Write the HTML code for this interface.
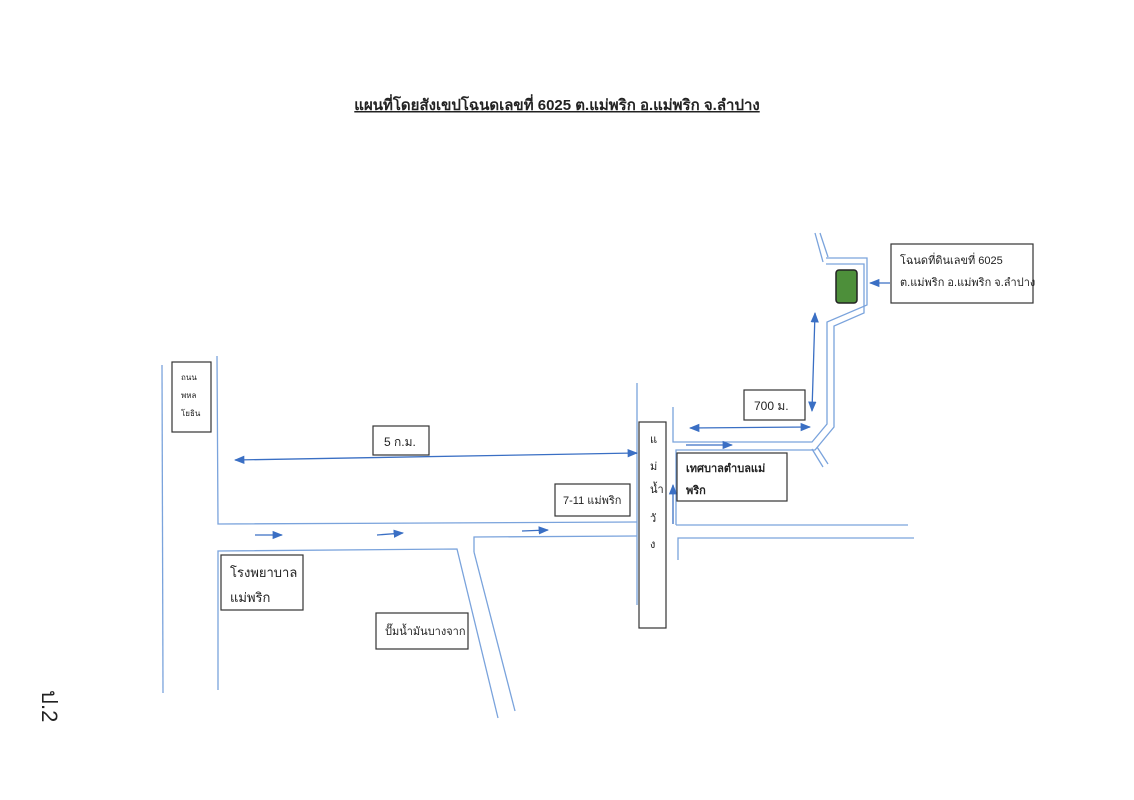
<!DOCTYPE html>
<html><head><meta charset="utf-8"><style>
html,body{margin:0;padding:0;background:#fff;}
svg{display:block;}
text{font-family:"Liberation Sans","Noto Sans CJK SC",sans-serif;fill:#222;}
</style></head><body>
<svg width="1134" height="800" viewBox="0 0 1134 800" xmlns="http://www.w3.org/2000/svg">
<defs>
<marker id="a" viewBox="0 0 10 10" refX="9" refY="5" markerWidth="8" markerHeight="8" orient="auto-start-reverse"><path d="M0,1 L10,5 L0,9 z" fill="#3a6fc4"/></marker>
</defs>
<text x="557" y="110" font-size="15" font-weight="bold" text-anchor="middle" text-decoration="underline">แผนที่โดยสังเขปโฉนดเลขที่ 6025 ต.แม่พริก อ.แม่พริก จ.ลำปาง</text>
<g stroke="#7aa3dc" stroke-width="1.3" fill="none">
<line x1="162" y1="365" x2="163" y2="693"/>
<polyline points="217,356 218,524 637,522"/>
<polyline points="218,690 218,551 457,549 498,718"/>
<polyline points="474,552 474,537 637,536"/>
<line x1="474" y1="552" x2="515" y2="711"/>
<line x1="637" y1="383" x2="637" y2="605"/>
<polyline points="673,407 673,442 812,442 827,424 827,322 867,305 867,258 826,258"/>
<polyline points="676,525 676,450 815,450 834,427 834,326 864,313 864,264 826,264"/>
<line x1="676" y1="525" x2="908" y2="525"/>
<polyline points="678,560 678,538 914,538"/>
<line x1="812" y1="449" x2="823" y2="467"/>
<line x1="817" y1="447" x2="828" y2="464"/>
<line x1="815" y1="233" x2="823" y2="262"/>
<line x1="820" y1="233" x2="828" y2="257"/>
</g>
<g stroke="#3a6fc4" stroke-width="1.3" fill="none">
<line x1="235" y1="460" x2="637" y2="453" marker-start="url(#a)" marker-end="url(#a)"/>
<line x1="255" y1="535" x2="282" y2="535" marker-end="url(#a)"/>
<line x1="377" y1="535" x2="403" y2="533" marker-end="url(#a)"/>
<line x1="522" y1="531" x2="548" y2="530" marker-end="url(#a)"/>
<line x1="686" y1="445" x2="732" y2="445" marker-end="url(#a)"/>
<line x1="690" y1="428" x2="810" y2="427" marker-start="url(#a)" marker-end="url(#a)"/>
<line x1="815" y1="313" x2="812" y2="411" marker-start="url(#a)" marker-end="url(#a)"/>
<line x1="890" y1="283" x2="870" y2="283" marker-end="url(#a)"/>
<line x1="673" y1="524" x2="673" y2="485" marker-end="url(#a)"/>
</g>
<rect x="836" y="270" width="21" height="33" rx="3" fill="#4d8f3a" stroke="#222" stroke-width="1.5"/>
<g fill="#fff" stroke="#333" stroke-width="1.2">
<rect x="172" y="362" width="39" height="70"/>
<rect x="373" y="426" width="56" height="29"/>
<rect x="555" y="484" width="75" height="32"/>
<rect x="639" y="422" width="27" height="206"/>
<rect x="677" y="453" width="110" height="48"/>
<rect x="744" y="390" width="61" height="30"/>
<rect x="891" y="244" width="142" height="59"/>
<rect x="221" y="555" width="82" height="55"/>
<rect x="376" y="613" width="92" height="36"/>
</g>
<g font-size="8"><text x="181" y="380">ถนน</text><text x="181" y="398">พหล</text><text x="181" y="416">โยธิน</text></g>
<text x="384" y="446" font-size="12">5 ก.ม.</text>
<text x="563" y="504" font-size="11">7-11 แม่พริก</text>
<g font-size="11"><text x="650" y="443">แ</text><text x="650" y="470">ม่</text><text x="650" y="493">น้ำ</text><text x="650" y="522">วั</text><text x="650" y="548">ง</text></g>
<text x="686" y="472" font-size="11" font-weight="bold">เทศบาลตำบลแม่</text>
<text x="686" y="494" font-size="11" font-weight="bold">พริก</text>
<text x="754" y="410" font-size="12">700 ม.</text>
<text x="900" y="264" font-size="11">โฉนดที่ดินเลขที่ 6025</text>
<text x="900" y="286" font-size="11">ต.แม่พริก อ.แม่พริก จ.ลำปาง</text>
<text x="230" y="577" font-size="13">โรงพยาบาล</text>
<text x="230" y="602" font-size="13">แม่พริก</text>
<text x="385" y="635" font-size="11">ปั๊มน้ำมันบางจาก</text>
<text x="0" y="0" font-size="22" fill="#556" transform="translate(42,690) rotate(90)">ป.2</text>
</svg>
</body></html>
